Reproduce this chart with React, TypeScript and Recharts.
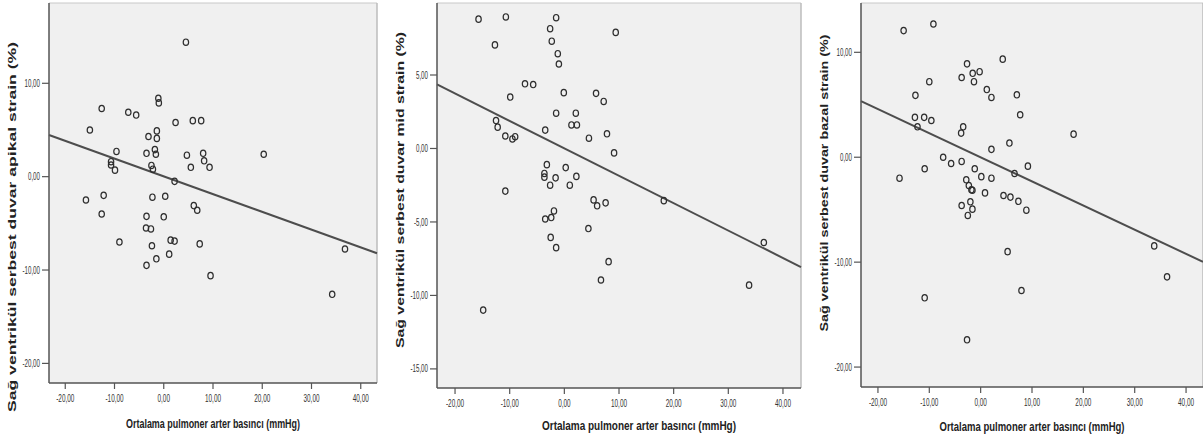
import React from "react";
import {
  CartesianGrid,
  Label,
  ReferenceLine,
  Scatter,
  ScatterChart,
  XAxis,
  YAxis,
} from "recharts";

const FONT = '"Liberation Sans", Arial, sans-serif';

const xTicks = [-20, -10, 0, 10, 20, 30, 40];
const xDomain = [-23.3, 43.3];

// apikal panel
const apikalX = [4.5, -12.6, -7.2, -5.6, -1.1, -1.0, -15.0, 2.4, 5.9, 7.6, -1.4, -1.4, -3.1, -9.6, -3.5, -1.8, -1.6, 4.7, 8.0, 8.2, 20.3, 5.5, 9.3, -10.7, -10.7, -9.9, -2.5, -2.2, 2.2, -15.8, -12.2, -2.3, 0.3, -12.6, -3.5, 0.0, 6.1, 6.8, -3.6, -2.6, -9.0, 1.4, 2.2, 7.3, -2.4, 1.1, -1.5, -3.5, 9.5, 36.8, 34.2];
const apikalY = [14.4, 7.3, 6.9, 6.6, 8.4, 7.9, 5.0, 5.8, 6.0, 6.0, 4.9, 4.1, 4.3, 2.7, 2.5, 2.9, 2.4, 2.3, 2.5, 1.7, 2.4, 1.0, 1.0, 1.6, 1.25, 0.7, 1.2, 0.8, -0.5, -2.5, -2.0, -2.2, -2.1, -4.0, -4.25, -4.3, -3.1, -3.6, -5.5, -5.6, -7.0, -6.8, -6.9, -7.2, -7.4, -8.3, -8.8, -9.5, -10.6, -7.75, -12.6];
const apikalFit = [4.46, -8.2];
const apikalTicks = [-20, -10, 0, 10];

// mid panel
const midX = [-15.7, -10.7, -1.5, -2.6, 9.4, -12.7, -2.3, -1.2, -1.0, -7.2, -5.7, -9.9, -0.1, 5.8, 7.2, -1.5, 2.1, 1.3, 2.3, -12.5, -12.2, -10.8, -9.5, -9.0, -3.5, 4.5, 7.8, 9.1, -3.2, 0.25, -3.65, -3.65, -1.6, 2.2, -2.6, 1.0, -10.8, 5.35, 6.0, 7.55, 18.2, -1.9, -3.5, -2.4, 4.4, -2.5, -1.5, 8.1, 6.7, 36.5, 33.8, -14.85];
const midY = [8.8, 8.95, 8.9, 8.15, 7.9, 7.05, 7.3, 6.45, 5.75, 4.4, 4.35, 3.5, 3.8, 3.75, 3.2, 2.4, 2.4, 1.6, 1.6, 1.9, 1.45, 0.85, 0.65, 0.8, 1.25, 0.7, 1.0, -0.3, -1.1, -1.3, -1.7, -1.95, -2.0, -1.9, -2.5, -2.5, -2.9, -3.5, -3.9, -3.7, -3.55, -4.25, -4.8, -4.7, -5.45, -6.05, -6.75, -7.7, -8.95, -6.4, -9.3, -11.0];
const midFit = [4.36, -8.07];
const midTicks = [-15, -10, -5, 0, 5];

// bazal panel
const bazalX = [-15.0, -9.2, -2.65, 4.3, -0.2, -1.55, -3.7, -1.3, -10.0, 1.2, 2.1, -12.7, 7.05, 7.7, -12.8, -11.0, -9.6, -12.3, -3.4, -3.8, 18.1, 5.6, 2.1, -7.3, -5.75, -3.7, 9.2, -10.9, -1.15, -15.8, 0.13, 2.1, 6.6, -2.8, -2.3, -1.8, -1.6, 0.85, 4.45, 5.8, 7.35, 8.9, -3.7, -2.0, -1.6, -2.5, 5.25, 33.8, 36.3, 7.95, -10.9, -2.65];
const bazalY = [12.07, 12.7, 8.9, 9.35, 8.15, 8.0, 7.6, 7.2, 7.2, 6.45, 5.7, 5.9, 5.95, 4.05, 3.8, 3.8, 3.5, 2.9, 2.9, 2.3, 2.2, 1.35, 0.75, 0.0, -0.6, -0.4, -0.85, -1.1, -1.1, -2.0, -1.85, -2.0, -1.55, -2.15, -2.7, -3.1, -3.15, -3.4, -3.65, -3.8, -4.2, -5.05, -4.6, -4.25, -4.95, -5.55, -9.0, -8.45, -11.4, -12.7, -13.4, -17.4];
const bazalFit = [5.35, -9.97];
const bazalTicks = [-20, -10, 0, 10];

const fmt = (v: number) => v.toFixed(2).replace(".", ",");

const XTick = (props: any) => {
  const { x, y, payload } = props;
  return (
    <text
      transform={`translate(${x},${y}) scale(0.64,1)`}
      textAnchor="middle"
      dy="0.71em"
      fontSize={10}
      fontFamily={FONT}
      fill="#333"
    >
      {fmt(payload.value)}
    </text>
  );
};

const YTick = (props: any) => {
  const { x, y, payload } = props;
  return (
    <text
      transform={`translate(${x},${y}) scale(0.62,1)`}
      textAnchor="end"
      dy="0.355em"
      fontSize={10}
      fontFamily={FONT}
      fill="#333"
    >
      {fmt(payload.value)}
    </text>
  );
};

const Dot = (props: any) => (
  <ellipse
    cx={props.cx}
    cy={props.cy}
    rx={2.7}
    ry={3.2}
    fill="none"
    stroke="#2e2e2e"
    strokeWidth={1.2}
  />
);

interface PanelProps {
  left: number;
  width: number;
  yWidth: number;
  right: number;
  xHeight: number;
  xs: number[];
  ys: number[];
  fit: number[];
  yDomain: number[];
  yTicks: number[];
  yTitle: string;
  yTitleX: number;
  yTitleY: number;
  yTitleLen: number;
  xTitleX: number;
  xTitleY: number;
  xTitleLen: number;
}

function Panel(p: PanelProps) {
  const data = p.xs.map((x, i) => ({ x, y: p.ys[i] }));
  return (
    <div style={{ position: "absolute", left: p.left, top: 0 }}>
      <ScatterChart
        width={p.width}
        height={443}
        margin={{ top: 3, right: p.right, bottom: 0, left: 0 }}
      >
        <CartesianGrid
          horizontal={false}
          vertical={false}
          fill="#f0f0f0"
          fillOpacity={1}
        />
        <XAxis
          type="number"
          dataKey="x"
          domain={xDomain}
          ticks={xTicks}
          allowDataOverflow
          height={p.xHeight}
          tick={<XTick />}
          tickSize={6}
          tickMargin={6}
          axisLine={{ stroke: "#555", strokeWidth: 1.5 }}
          tickLine={{ stroke: "#555", strokeWidth: 1.2 }}
        >
          <Label
            content={() => (
              <text
                x={p.xTitleX}
                y={p.xTitleY}
                textAnchor="middle"
                fontSize={13}
                fontWeight="bold"
                fontFamily={FONT}
                fill="#222"
                textLength={p.xTitleLen}
                lengthAdjust="spacingAndGlyphs"
              >
                Ortalama pulmoner arter basıncı (mmHg)
              </text>
            )}
          />
        </XAxis>
        <YAxis
          type="number"
          dataKey="y"
          domain={p.yDomain}
          ticks={p.yTicks}
          allowDataOverflow
          width={p.yWidth}
          tick={<YTick />}
          tickSize={7}
          tickMargin={2}
          axisLine={{ stroke: "#555", strokeWidth: 1.5 }}
          tickLine={{ stroke: "#555", strokeWidth: 1.2 }}
        >
          <Label
            content={() => (
              <text
                transform={`translate(${p.yTitleX},${p.yTitleY}) scale(0.8,1) rotate(-90)`}
                textAnchor="middle"
                dy="0.35em"
                fontSize={14}
                fontWeight="bold"
                fontFamily={FONT}
                fill="#222"
                textLength={p.yTitleLen}
                lengthAdjust="spacingAndGlyphs"
              >
                {p.yTitle}
              </text>
            )}
          />
        </YAxis>
        <ReferenceLine y={p.yDomain[1]} stroke="#c8c8c8" strokeWidth={1} />
        <ReferenceLine x={xDomain[1]} stroke="#bdbdbd" strokeWidth={1.5} />
        <ReferenceLine
          segment={[
            { x: xDomain[0], y: p.fit[0] },
            { x: xDomain[1], y: p.fit[1] },
          ]}
          stroke="#4d4d4d"
          strokeWidth={2}
        />
        <Scatter data={data} shape={<Dot />} isAnimationActive={false} />
      </ScatterChart>
    </div>
  );
}

export default function App() {
  return (
    <div
      style={{
        position: "absolute",
        left: 0,
        top: 0,
        width: 1203,
        height: 443,
        overflow: "hidden",
        background: "#fff",
      }}
    >
      <Panel
        left={0}
        width={385}
        yWidth={49}
        right={8}
        xHeight={60}
        xs={apikalX}
        ys={apikalY}
        fit={apikalFit}
        yDomain={[-22.1, 18.6]}
        yTicks={apikalTicks}
        yTitle="Sağ ventrikül serbest duvar apikal strain (%)"
        yTitleX={12}
        yTitleY={227}
        yTitleLen={370}
        xTitleX={213}
        xTitleY={428}
        xTitleLen={174}
      />
      <Panel
        left={385}
        width={420}
        yWidth={52}
        right={4}
        xHeight={55}
        xs={midX}
        ys={midY}
        fit={midFit}
        yDomain={[-16.3, 9.9]}
        yTicks={midTicks}
        yTitle="Sağ ventrikül serbest duvar mid strain (%)"
        yTitleX={15}
        yTitleY={190}
        yTitleLen={316}
        xTitleX={254}
        xTitleY={430}
        xTitleLen={194}
      />
      <Panel
        left={805}
        width={398}
        yWidth={56}
        right={0}
        xHeight={56}
        xs={bazalX}
        ys={bazalY}
        fit={bazalFit}
        yDomain={[-21.9, 14.7]}
        yTicks={bazalTicks}
        yTitle="Sağ ventrikül serbest duvar bazal strain (%)"
        yTitleX={19}
        yTitleY={183}
        yTitleLen={297}
        xTitleX={227}
        xTitleY={431}
        xTitleLen={185}
      />
    </div>
  );
}
